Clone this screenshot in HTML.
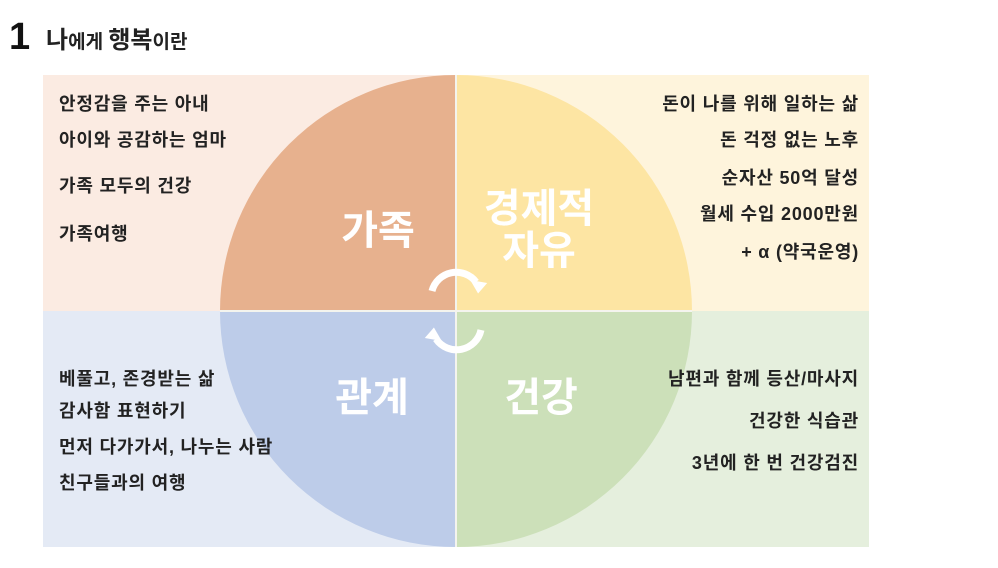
<!DOCTYPE html>
<html><head><meta charset="utf-8"><style>
body{margin:0;background:#fff;}
svg text{font-family:"Liberation Sans","Noto Sans CJK KR",sans-serif;}
</style></head><body>
<svg width="998" height="563" viewBox="0 0 998 563" xmlns="http://www.w3.org/2000/svg">
<rect width="998" height="563" fill="#fff"/>
<text x="9" y="49" font-size="38" font-weight="900" fill="#111">1</text>
<text x="46" y="48" font-size="24" font-weight="bold" fill="#222">나<tspan font-size="19">에게 </tspan>행복<tspan font-size="19">이란</tspan></text>
<rect x="43" y="75" width="414" height="236" fill="#fbebe2"/>
<rect x="457" y="75" width="412" height="236" fill="#fef4dc"/>
<rect x="43" y="311" width="414" height="236" fill="#e4eaf5"/>
<rect x="457" y="311" width="412" height="236" fill="#e5efdd"/>
<path d="M456,311 L220,311 A236,236 0 0 1 456,75 Z" fill="#e7b18e"/>
<path d="M456,311 L456,75 A236,236 0 0 1 692,311 Z" fill="#fde5a3"/>
<path d="M456,311 L220,311 A236,236 0 0 0 456,547 Z" fill="#bdcce9"/>
<path d="M456,311 L456,547 A236,236 0 0 0 692,311 Z" fill="#cce0b9"/>
<line x1="456" y1="75" x2="456" y2="547" stroke="#f4f4ee" stroke-width="2"/>
<line x1="220" y1="311" x2="692" y2="311" stroke="#f4f4ee" stroke-width="2"/>
<g fill="none" stroke="#fff" stroke-width="7">
<path d="M432,291 A25,25 0 0 1 476,282"/>
<path d="M481,330 A25,25 0 0 1 436,339"/>
</g>
<polygon points="469,283 486,280 481,293" fill="#fff" transform="rotate(20 478 285)"/>
<polygon points="443,338 426,341 431,328" fill="#fff" transform="rotate(20 434 336)"/>
<g fill="#fff" font-weight="bold" font-size="40" text-anchor="middle">
<text x="378" y="244">가족</text>
<text x="539" y="222">경제적</text>
<text x="539" y="264">자유</text>
<text x="372" y="411">관계</text>
<text x="541" y="411">건강</text>
</g>
<g fill="#222" font-size="18" font-weight="bold" letter-spacing="0.8">
<text x="59" y="110">안정감을 주는 아내</text>
<text x="59" y="146">아이와 공감하는 엄마</text>
<text x="59" y="192">가족 모두의 건강</text>
<text x="59" y="240">가족여행</text>
<text x="59" y="385">베풀고, 존경받는 삶</text>
<text x="59" y="417">감사함 표현하기</text>
<text x="59" y="453">먼저 다가가서, 나누는 사람</text>
<text x="59" y="489">친구들과의 여행</text>
</g>
<g fill="#222" font-size="18" font-weight="bold" text-anchor="end" letter-spacing="0.8">
<text x="859" y="110">돈이 나를 위해 일하는 삶</text>
<text x="859" y="146">돈 걱정 없는 노후</text>
<text x="859" y="184">순자산 50억 달성</text>
<text x="859" y="220">월세 수입 2000만원</text>
<text x="859" y="258">+ α (약국운영)</text>
<text x="859" y="385">남편과 함께 등산/마사지</text>
<text x="859" y="427">건강한 식습관</text>
<text x="859" y="469">3년에 한 번 건강검진</text>
</g>
</svg>
</body></html>
